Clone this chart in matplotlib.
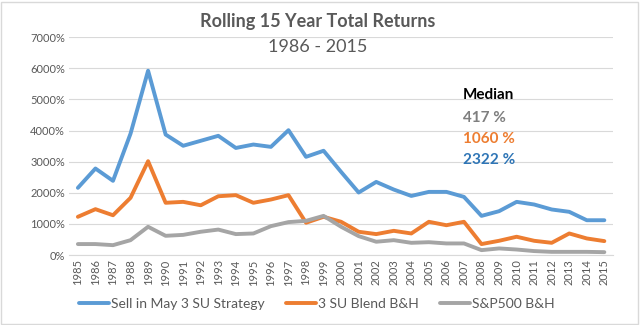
import matplotlib
matplotlib.use("Agg")
import matplotlib.pyplot as plt
from matplotlib.patches import Rectangle

years = [str(y) for y in range(1985, 2016)]
sell_in_may = [2160, 2780, 2385, 3900, 5920, 3870, 3510, 3670, 3830, 3440, 3550, 3475,
               4010, 3155, 3350, 2670, 2010, 2350, 2105, 1900, 2030, 2030, 1870, 1260,
               1410, 1710, 1625, 1465, 1390, 1120, 1120]
blend_bh = [1230, 1475, 1280, 1840, 3015, 1680, 1710, 1600, 1890, 1925, 1680, 1785,
            1925, 1040, 1230, 1070, 750, 675, 780, 695, 1070, 960, 1070, 355,
            460, 590, 460, 395, 695, 535, 450]
sp500_bh = [355, 355, 320, 480, 910, 620, 650, 750, 820, 675, 695, 930,
            1060, 1100, 1260, 910, 610, 430, 480, 395, 415, 375, 375, 160,
            215, 180, 130, 105, 105, 105, 95]
series_names = ["Sell in May 3 SU Strategy", "3 SU Blend B&H", "S&P500 B&H"]
median_labels = ["417 %", "1060 %", "2322 %"]
yticks = list(range(0, 7001, 1000))

plt.rcParams['font.family'] = ['Lato', 'DejaVu Sans']

BLUE = "#5B9BD5"
ORANGE = "#ED7D31"
GRAY = "#A5A5A5"
TXT = "#595959"

fig = plt.figure(figsize=(6.4, 3.25), dpi=100)
fig.patch.set_facecolor("white")
ax = fig.add_axes([0.108, 0.215, 0.85, 0.671])

x = list(range(len(years)))
for vals, c, name in zip([sell_in_may, blend_bh, sp500_bh], [BLUE, ORANGE, GRAY], series_names):
    ax.plot(x, vals, color=c, lw=2.8, label=name, solid_capstyle="round", solid_joinstyle="round")

ax.set_xlim(-0.5, len(years) - 0.5)
ax.set_ylim(0, 7000)
ax.set_yticks(yticks)
ax.set_yticklabels([f"{v}%" for v in yticks], color=TXT, fontsize=8)
ax.set_xticks(x)
ax.set_xticklabels(years, rotation=90, color=TXT, fontsize=8)
ax.grid(axis="y", color="#D9D9D9", lw=0.8)
ax.set_axisbelow(True)
for s in ["top", "right", "left"]:
    ax.spines[s].set_visible(False)
ax.spines["bottom"].set_color("#D9D9D9")
ax.tick_params(length=0, pad=3)

fig.text(0.497, 0.935, "Rolling 15 Year Total Returns", ha="center", va="center",
         fontsize=13, fontweight="bold", color=TXT)
fig.text(0.497, 0.855, "1986 - 2015", ha="center", va="center", fontsize=13, color=TXT)

fig.text(0.723, 0.707, "Median", ha="left", va="center", fontsize=11, fontweight="bold", color="black")
for i, (lab, c) in enumerate(zip(median_labels, ["#7F7F7F", ORANGE, "#2E75B6"])):
    fig.text(0.723, 0.637 - i * 0.064, lab, ha="left", va="center", fontsize=11,
             fontweight="bold", color=c)

leg = fig.legend(loc="center", bbox_to_anchor=(0.495, 0.065), ncol=3, frameon=False,
                 fontsize=10, handlelength=2.2, columnspacing=1.5, handletextpad=0.15)
for t in leg.get_texts():
    t.set_color(TXT)

fig.patches.append(Rectangle((0.002, 0.003), 0.995, 0.992, transform=fig.transFigure,
                             fill=False, edgecolor="#D9D9D9", lw=1))

fig.savefig("out.png", dpi=100)
